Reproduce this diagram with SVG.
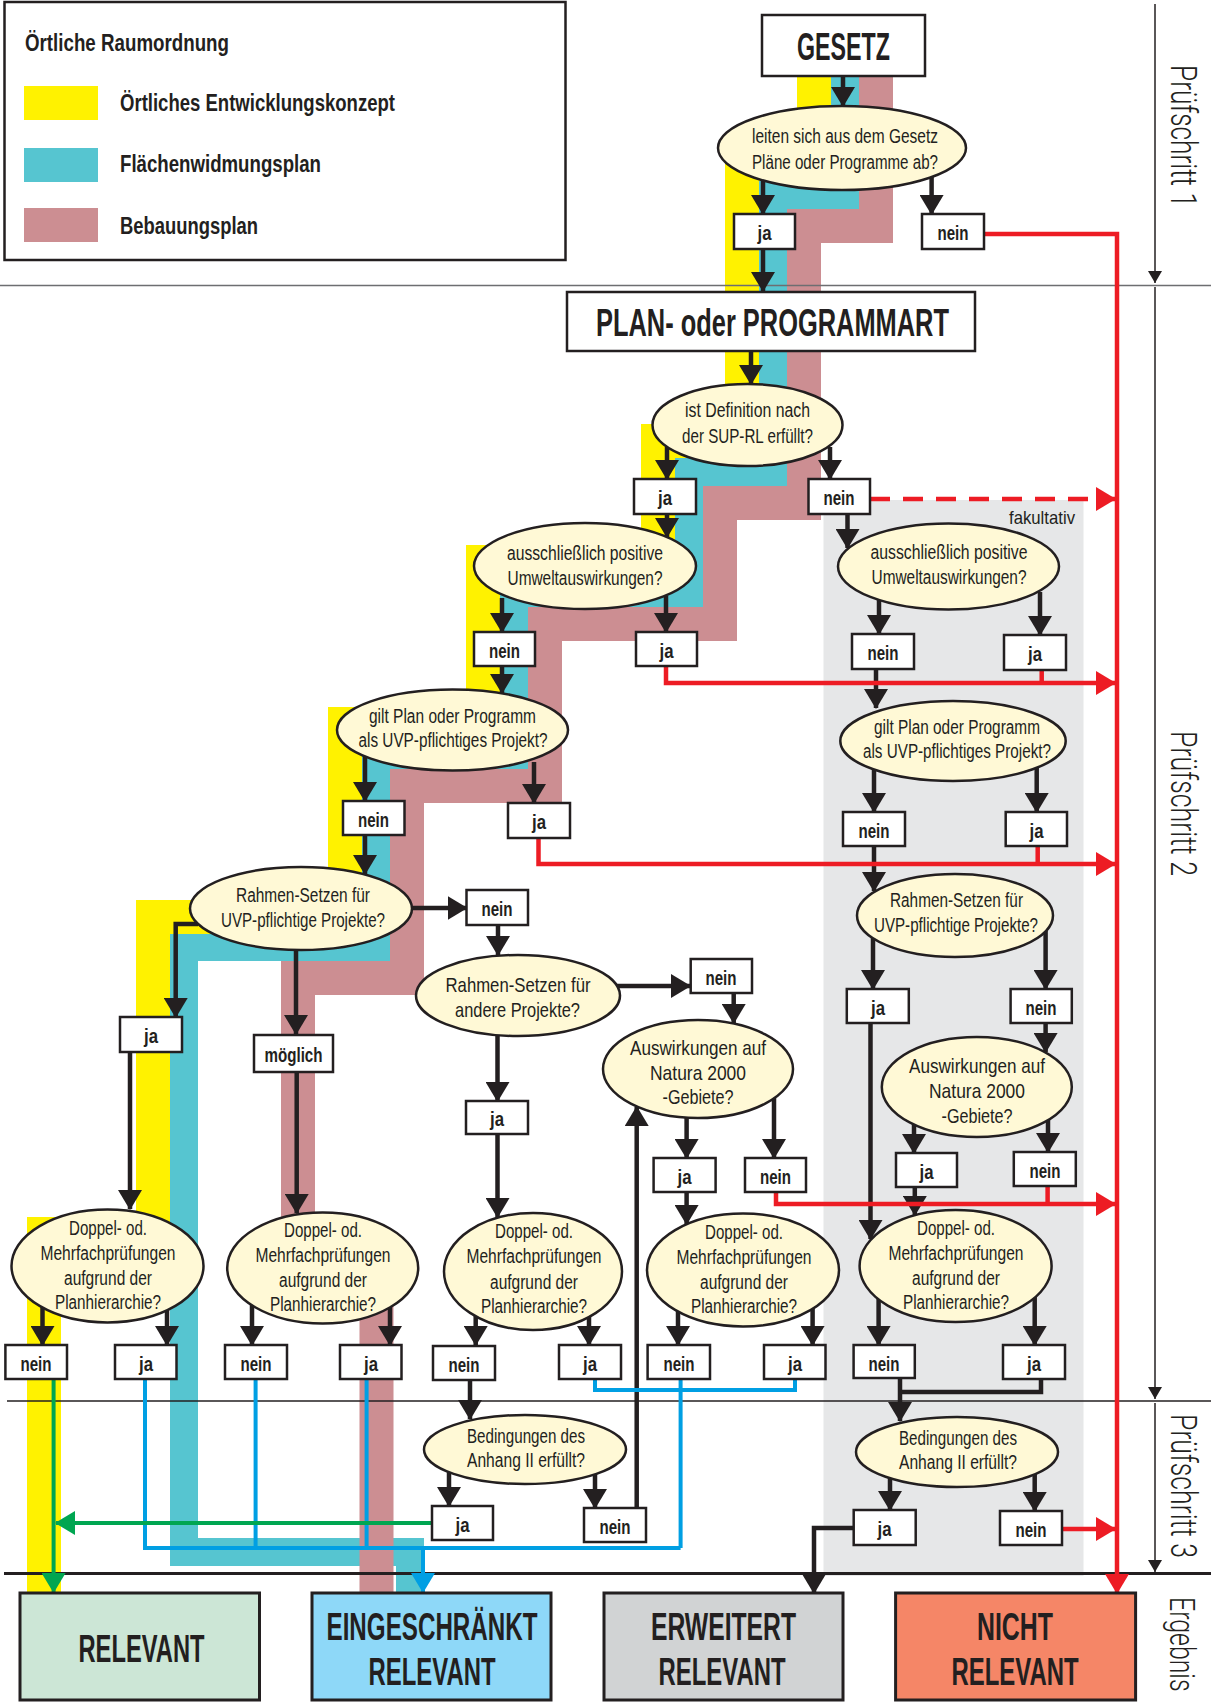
<svg xmlns="http://www.w3.org/2000/svg" width="1211" height="1706" viewBox="0 0 1211 1706">
<style>
text{font-family:"Liberation Sans",Arial,sans-serif;fill:#231f20}
.e{font-size:20px;text-anchor:middle}
.e2{font-size:21px;text-anchor:middle}
.l{font-size:21px;font-weight:bold;text-anchor:middle}
.big{font-size:38px;font-weight:bold;text-anchor:middle}
.res{font-size:38px;font-weight:bold;text-anchor:middle}
.leg{font-size:24px;font-weight:bold}
.ps{font-family:Roboto,"Liberation Sans",Arial,sans-serif;font-weight:300;font-size:37px}
.q ellipse{fill:#fff9d6;stroke:#231f20;stroke-width:2.5}
.bx rect{fill:#fff;stroke:#231f20;stroke-width:2.5}
.band{fill:none;stroke-linejoin:miter;stroke-linecap:butt}
.k{fill:none;stroke:#231f20;stroke-width:4.5}
.r{fill:none;stroke:#ed1c24;stroke-width:4.5}
.bl{fill:none;stroke:#009fe3;stroke-width:4}
.gr{fill:none;stroke:#00a651;stroke-width:4}
.ax{fill:none;stroke:#231f20;stroke-width:1.5}
</style>
<defs>
<marker id="ak" markerUnits="userSpaceOnUse" markerWidth="20" markerHeight="24" viewBox="0 0 20 24" refX="19" refY="12" orient="auto"><path d="M0,0L20,12L0,24z" fill="#231f20"/></marker>
<marker id="ar" markerUnits="userSpaceOnUse" markerWidth="20" markerHeight="24" viewBox="0 0 20 24" refX="19" refY="12" orient="auto"><path d="M0,0L20,12L0,24z" fill="#ed1c24"/></marker>
<marker id="ab" markerUnits="userSpaceOnUse" markerWidth="20" markerHeight="24" viewBox="0 0 20 24" refX="19" refY="12" orient="auto"><path d="M0,0L20,12L0,24z" fill="#009fe3"/></marker>
<marker id="ag" markerUnits="userSpaceOnUse" markerWidth="20" markerHeight="24" viewBox="0 0 20 24" refX="19" refY="12" orient="auto"><path d="M0,0L20,12L0,24z" fill="#00a651"/></marker>
<marker id="aa" markerUnits="userSpaceOnUse" markerWidth="12" markerHeight="14" viewBox="0 0 12 14" refX="12" refY="7" orient="auto"><path d="M0,0L12,7L0,14z" fill="#231f20"/></marker>
</defs>
<rect width="1211" height="1706" fill="#fff"/>

<!-- fakultativ region -->
<g id="fakultativ">
<rect x="823.5" y="500" width="260" height="1076" fill="#e6e7e8"/>
<text x="1042" y="524" style="font-size:19px;text-anchor:middle" textLength="66" lengthAdjust="spacingAndGlyphs">fakultativ</text>
</g>

<!-- colour bands -->
<g id="bands">
<polyline class="band" stroke="#56c5d0" stroke-width="28" points="845,76 845,195 773,195 773,472 689,472 689,593 514,593 514,755 376,755 376,947 184,947 184,1552 410,1552 410,1592"/>
<polyline class="band" stroke="#fff200" stroke-width="34" points="814,76 814,164 742,164 742,441 658,441 658,562 483,562 483,724 345,724 345,917 153,917 153,1234 44,1234 44,1592"/>
<polyline class="band" stroke="#cc8e92" stroke-width="34" points="876,76 876,226 804,226 804,503 720,503 720,624 545,624 545,786 407,786 407,978 298,978 298,1272 376.5,1272 376.5,1592"/>
</g>

<!-- dividers and step axis -->
<g id="steps">
<line x1="0" y1="285.5" x2="1211" y2="285.5" stroke="#6d6e71" stroke-width="1.5"/>
<line x1="7" y1="1401" x2="1211" y2="1401" stroke="#231f20" stroke-width="1.3"/>
<line x1="4" y1="1573.5" x2="1211" y2="1573.5" stroke="#231f20" stroke-width="3"/>
<path class="ax" d="M1155,4V283" marker-end="url(#aa)"/>
<path class="ax" d="M1155,287V1399" marker-end="url(#aa)"/>
<path class="ax" d="M1155,1403V1572" marker-end="url(#aa)"/>
<text class="ps" transform="translate(1171,65) rotate(90)" textLength="142" lengthAdjust="spacingAndGlyphs">Prüfschritt 1</text>
<text class="ps" transform="translate(1171,731) rotate(90)" textLength="145" lengthAdjust="spacingAndGlyphs">Prüfschritt 2</text>
<text class="ps" transform="translate(1171,1414) rotate(90)" textLength="144" lengthAdjust="spacingAndGlyphs">Prüfschritt 3</text>
<text class="ps" transform="translate(1170,1597) rotate(90) scale(0.71,1)" style="font-size:35px">Ergebnis</text>
</g>

<!-- legend -->
<g id="legend">
<rect x="4.5" y="2" width="561" height="258" fill="#fff" stroke="#231f20" stroke-width="2.5"/>
<text class="leg" x="25" y="51" textLength="204" lengthAdjust="spacingAndGlyphs">Örtliche Raumordnung</text>
<rect x="24" y="86" width="74" height="34" fill="#fff200"/>
<rect x="24" y="148" width="74" height="34" fill="#56c5d0"/>
<rect x="24" y="208" width="74" height="34" fill="#cc8e92"/>
<text class="leg" x="120" y="111" textLength="275" lengthAdjust="spacingAndGlyphs">Örtliches Entwicklungskonzept</text>
<text class="leg" x="120" y="172" textLength="201" lengthAdjust="spacingAndGlyphs">Flächenwidmungsplan</text>
<text class="leg" x="120" y="234" textLength="138" lengthAdjust="spacingAndGlyphs">Bebauungsplan</text>
</g>

<!-- connectors -->
<g id="connectors">
<path class="k" marker-end="url(#ak)" d="M843,76V106"/>
<path class="k" marker-end="url(#ak)" d="M763,178V214"/>
<path class="k" marker-end="url(#ak)" d="M763,249V291"/>
<path class="k" marker-end="url(#ak)" d="M931.6,177V214"/>
<path class="k" marker-end="url(#ak)" d="M751,351V384"/>
<path class="k" marker-end="url(#ak)" d="M667,447V479"/>
<path class="k" marker-end="url(#ak)" d="M830,447V479"/>
<path class="k" marker-end="url(#ak)" d="M667,514V537"/>
<path class="k" marker-end="url(#ak)" d="M847.5,514V548"/>
<path class="k" marker-end="url(#ak)" d="M502,598V632"/>
<path class="k" marker-end="url(#ak)" d="M666,596V632"/>
<path class="k" marker-end="url(#ak)" d="M879,600V634"/>
<path class="k" marker-end="url(#ak)" d="M1040,592V635"/>
<path class="k" marker-end="url(#ak)" d="M502,666V693"/>
<path class="k" marker-end="url(#ak)" d="M876,669V708"/>
<path class="k" marker-end="url(#ak)" d="M365,757V801"/>
<path class="k" marker-end="url(#ak)" d="M534,762V803"/>
<path class="k" marker-end="url(#ak)" d="M365,835V874"/>
<path class="k" marker-end="url(#ak)" d="M874,768V812"/>
<path class="k" marker-end="url(#ak)" d="M1036.7,765V812"/>
<path class="k" marker-end="url(#ak)" d="M874,846V891"/>
<path class="k" marker-end="url(#ak)" d="M198,924H175.7V1017"/>
<path class="k" marker-end="url(#ak)" d="M296,950V1034"/>
<path class="k" marker-end="url(#ak)" d="M412,908H466.5"/>
<path class="k" marker-end="url(#ak)" d="M498,925V955"/>
<path class="k" marker-end="url(#ak)" d="M617,986H690"/>
<path class="k" marker-end="url(#ak)" d="M497.5,1036V1101"/>
<path class="k" marker-end="url(#ak)" d="M733.7,993V1023"/>
<path class="k" marker-end="url(#ak)" d="M686.6,1114V1158"/>
<path class="k" marker-end="url(#ak)" d="M774,1098V1158"/>
<path class="k" marker-end="url(#ak)" d="M686.6,1192V1224"/>
<path class="k" marker-end="url(#ak)" d="M130,1052V1209"/>
<path class="k" marker-end="url(#ak)" d="M296.7,1072V1213"/>
<path class="k" marker-end="url(#ak)" d="M497.5,1134V1217"/>
<path class="k" marker-end="url(#ak)" d="M42.5,1305V1345"/>
<path class="k" marker-end="url(#ak)" d="M167,1306V1345"/>
<path class="k" marker-end="url(#ak)" d="M252,1304V1345"/>
<path class="k" marker-end="url(#ak)" d="M390,1305V1345"/>
<path class="k" marker-end="url(#ak)" d="M475.7,1314V1345"/>
<path class="k" marker-end="url(#ak)" d="M589,1314V1345"/>
<path class="k" marker-end="url(#ak)" d="M678,1310V1345"/>
<path class="k" marker-end="url(#ak)" d="M812.6,1308V1345"/>
<path class="k" marker-end="url(#ak)" d="M878.6,1298V1345"/>
<path class="k" marker-end="url(#ak)" d="M1034.7,1297V1345"/>
<path class="k" marker-end="url(#ak)" d="M470,1380V1419"/>
<path class="k" marker-end="url(#ak)" d="M449,1471V1506"/>
<path class="k" marker-end="url(#ak)" d="M595,1473V1508"/>
<path class="k" marker-end="url(#ak)" d="M636.7,1508V1107"/>
<path class="k" marker-end="url(#ak)" d="M873,938V989"/>
<path class="k" marker-end="url(#ak)" d="M1045.6,931V989"/>
<path class="k" marker-end="url(#ak)" d="M870.5,1023V1239"/>
<path class="k" marker-end="url(#ak)" d="M1045.6,1023V1052"/>
<path class="k" marker-end="url(#ak)" d="M914,1124V1153"/>
<path class="k" marker-end="url(#ak)" d="M1048,1119V1152"/>
<path class="k" marker-end="url(#ak)" d="M914.8,1187V1215"/>
<path class="k" marker-end="url(#ak)" d="M900,1378V1421"/>
<path class="k" d="M1041,1379V1392H900"/>
<path class="k" marker-end="url(#ak)" d="M890,1477V1510"/>
<path class="k" marker-end="url(#ak)" d="M1034.7,1473V1511"/>
<path class="k" marker-end="url(#ak)" d="M853.7,1528H814V1593"/>

<path class="r" marker-end="url(#ar)" d="M984,234H1117V1593"/>
<path class="r" marker-end="url(#ar)" d="M870,499H1115" stroke-dasharray="20,13"/>
<path class="r" marker-end="url(#ar)" d="M666,666V683H1115"/>
<path class="r" d="M1041.7,670V683"/>
<path class="r" marker-end="url(#ar)" d="M538.5,838V864H1115"/>
<path class="r" d="M1037.7,846V864"/>
<path class="r" marker-end="url(#ar)" d="M776,1192V1204H1115"/>
<path class="r" d="M1047.6,1186V1204"/>
<path class="r" marker-end="url(#ar)" d="M1062,1529H1115"/>

<path class="bl" d="M145,1379V1548H680.6"/>
<path class="bl" d="M255.6,1379V1548"/>
<path class="bl" d="M366.6,1379V1548"/>
<path class="bl" d="M680.6,1379V1548"/>
<path class="bl" d="M595,1379V1390H795V1379"/>
<path class="bl" marker-end="url(#ab)" d="M423,1548V1592"/>

<path class="gr" marker-end="url(#ag)" d="M53.6,1379V1592"/>
<path class="gr" marker-end="url(#ag)" d="M432,1523H56"/>
</g>

<!-- main boxes -->
<g id="gesetz" class="bx"><rect x="762" y="15" width="163" height="61"/><text class="big" x="843.5" y="60" textLength="93" lengthAdjust="spacingAndGlyphs">GESETZ</text></g>
<g id="planart" class="bx"><rect x="567" y="292" width="408" height="59"/><text class="big" x="772.5" y="336" textLength="353" lengthAdjust="spacingAndGlyphs">PLAN- oder PROGRAMMART</text></g>

<!-- questions -->
<g id="q1" class="q"><ellipse cx="842" cy="148" rx="124" ry="42"/>
<text class="e" x="845" y="143" textLength="186" lengthAdjust="spacingAndGlyphs">leiten sich aus dem Gesetz</text>
<text class="e" x="845" y="169" textLength="186" lengthAdjust="spacingAndGlyphs">Pläne oder Programme ab?</text></g>
<g id="q2" class="q"><ellipse cx="747.5" cy="425" rx="95" ry="41"/>
<text class="e" x="747.5" y="417" textLength="125" lengthAdjust="spacingAndGlyphs">ist Definition nach</text>
<text class="e" x="747.5" y="443" textLength="131" lengthAdjust="spacingAndGlyphs">der SUP-RL erfüllt?</text></g>
<g id="q3l" class="q"><ellipse cx="585" cy="566" rx="111" ry="43"/>
<text class="e" x="585" y="560" textLength="156" lengthAdjust="spacingAndGlyphs">ausschließlich positive</text>
<text class="e" x="585" y="585" textLength="155" lengthAdjust="spacingAndGlyphs">Umweltauswirkungen?</text></g>
<g id="q3r" class="q"><ellipse cx="948.5" cy="566.5" rx="110.5" ry="43"/>
<text class="e" x="949" y="559" textLength="157" lengthAdjust="spacingAndGlyphs">ausschließlich positive</text>
<text class="e" x="949" y="584" textLength="155" lengthAdjust="spacingAndGlyphs">Umweltauswirkungen?</text></g>
<g id="q4l" class="q"><ellipse cx="452.5" cy="730" rx="115.5" ry="40.5"/>
<text class="e" x="452.5" y="723" textLength="167" lengthAdjust="spacingAndGlyphs">gilt Plan oder Programm</text>
<text class="e" x="453" y="747" textLength="189" lengthAdjust="spacingAndGlyphs">als UVP-pflichtiges Projekt?</text></g>
<g id="q4r" class="q"><ellipse cx="953" cy="741" rx="112.7" ry="40"/>
<text class="e" x="957" y="734" textLength="166" lengthAdjust="spacingAndGlyphs">gilt Plan oder Programm</text>
<text class="e" x="957" y="758" textLength="188" lengthAdjust="spacingAndGlyphs">als UVP-pflichtiges Projekt?</text></g>
<g id="q5l" class="q"><ellipse cx="301" cy="908.5" rx="111" ry="41.5"/>
<text class="e" x="303" y="902" textLength="134" lengthAdjust="spacingAndGlyphs">Rahmen-Setzen für</text>
<text class="e" x="303" y="927" textLength="164" lengthAdjust="spacingAndGlyphs">UVP-pflichtige Projekte?</text></g>
<g id="q5r" class="q"><ellipse cx="955" cy="915.5" rx="98" ry="41.5"/>
<text class="e" x="956.5" y="907" textLength="133" lengthAdjust="spacingAndGlyphs">Rahmen-Setzen für</text>
<text class="e" x="956" y="932" textLength="164" lengthAdjust="spacingAndGlyphs">UVP-pflichtige Projekte?</text></g>
<g id="q6" class="q"><ellipse cx="518" cy="995.5" rx="102" ry="40.5"/>
<text class="e2" x="518" y="992" textLength="145" lengthAdjust="spacingAndGlyphs">Rahmen-Setzen für</text>
<text class="e2" x="517.5" y="1017" textLength="125" lengthAdjust="spacingAndGlyphs">andere Projekte?</text></g>
<g id="q7l" class="q"><ellipse cx="698" cy="1069" rx="95" ry="49"/>
<text class="e2" x="698" y="1055" textLength="136" lengthAdjust="spacingAndGlyphs">Auswirkungen auf</text>
<text class="e2" x="698" y="1080" textLength="96" lengthAdjust="spacingAndGlyphs">Natura 2000</text>
<text class="e2" x="698" y="1104" textLength="71" lengthAdjust="spacingAndGlyphs">-Gebiete?</text></g>
<g id="q7r" class="q"><ellipse cx="976.8" cy="1087" rx="95" ry="50"/>
<text class="e2" x="977" y="1073" textLength="136" lengthAdjust="spacingAndGlyphs">Auswirkungen auf</text>
<text class="e2" x="977" y="1098" textLength="96" lengthAdjust="spacingAndGlyphs">Natura 2000</text>
<text class="e2" x="977" y="1123" textLength="71" lengthAdjust="spacingAndGlyphs">-Gebiete?</text></g>

<g id="d1" class="q"><ellipse cx="107.5" cy="1266" rx="96" ry="56.5"/>
<text class="e" x="108" y="1234.5" textLength="78" lengthAdjust="spacingAndGlyphs">Doppel- od.</text>
<text class="e" x="108" y="1259.5" textLength="135" lengthAdjust="spacingAndGlyphs">Mehrfachprüfungen</text>
<text class="e" x="108" y="1284.5" textLength="88" lengthAdjust="spacingAndGlyphs">aufgrund der</text>
<text class="e" x="108" y="1309" textLength="106" lengthAdjust="spacingAndGlyphs">Planhierarchie?</text></g>
<g id="d2" class="q"><ellipse cx="322.7" cy="1268" rx="95.5" ry="55.5"/>
<text class="e" x="323" y="1236.5" textLength="78" lengthAdjust="spacingAndGlyphs">Doppel- od.</text>
<text class="e" x="323" y="1261.5" textLength="135" lengthAdjust="spacingAndGlyphs">Mehrfachprüfungen</text>
<text class="e" x="323" y="1286.5" textLength="88" lengthAdjust="spacingAndGlyphs">aufgrund der</text>
<text class="e" x="323" y="1311" textLength="106" lengthAdjust="spacingAndGlyphs">Planhierarchie?</text></g>
<g id="d3" class="q"><ellipse cx="533" cy="1271.5" rx="89" ry="58.5"/>
<text class="e" x="534" y="1238" textLength="78" lengthAdjust="spacingAndGlyphs">Doppel- od.</text>
<text class="e" x="534" y="1263" textLength="135" lengthAdjust="spacingAndGlyphs">Mehrfachprüfungen</text>
<text class="e" x="534" y="1288.5" textLength="88" lengthAdjust="spacingAndGlyphs">aufgrund der</text>
<text class="e" x="534" y="1313" textLength="106" lengthAdjust="spacingAndGlyphs">Planhierarchie?</text></g>
<g id="d4" class="q"><ellipse cx="743" cy="1270" rx="96" ry="56.5"/>
<text class="e" x="744" y="1238.5" textLength="78" lengthAdjust="spacingAndGlyphs">Doppel- od.</text>
<text class="e" x="744" y="1263.5" textLength="135" lengthAdjust="spacingAndGlyphs">Mehrfachprüfungen</text>
<text class="e" x="744" y="1288.5" textLength="88" lengthAdjust="spacingAndGlyphs">aufgrund der</text>
<text class="e" x="744" y="1313" textLength="106" lengthAdjust="spacingAndGlyphs">Planhierarchie?</text></g>
<g id="d5" class="q"><ellipse cx="955.6" cy="1266" rx="96" ry="56"/>
<text class="e" x="956" y="1234.5" textLength="78" lengthAdjust="spacingAndGlyphs">Doppel- od.</text>
<text class="e" x="956" y="1259.5" textLength="135" lengthAdjust="spacingAndGlyphs">Mehrfachprüfungen</text>
<text class="e" x="956" y="1284.5" textLength="88" lengthAdjust="spacingAndGlyphs">aufgrund der</text>
<text class="e" x="956" y="1309" textLength="106" lengthAdjust="spacingAndGlyphs">Planhierarchie?</text></g>
<g id="bedl" class="q"><ellipse cx="525" cy="1449.5" rx="101" ry="34.5"/>
<text class="e" x="526" y="1443" textLength="118" lengthAdjust="spacingAndGlyphs">Bedingungen des</text>
<text class="e" x="526" y="1467" textLength="118" lengthAdjust="spacingAndGlyphs">Anhang II erfüllt?</text></g>
<g id="bedr" class="q"><ellipse cx="957" cy="1452" rx="101" ry="35"/>
<text class="e" x="958" y="1445" textLength="118" lengthAdjust="spacingAndGlyphs">Bedingungen des</text>
<text class="e" x="958" y="1469" textLength="118" lengthAdjust="spacingAndGlyphs">Anhang II erfüllt?</text></g>

<!-- answer boxes -->
<g id="a1" class="bx"><rect x="734" y="214" width="61" height="35"/><text class="l" x="764.5" y="240" textLength="14" lengthAdjust="spacingAndGlyphs">ja</text></g>
<g id="a2" class="bx"><rect x="922" y="214" width="62" height="35"/><text class="l" x="953" y="240" textLength="31" lengthAdjust="spacingAndGlyphs">nein</text></g>
<g id="a3" class="bx"><rect x="634" y="479" width="62" height="35"/><text class="l" x="665" y="505" textLength="14" lengthAdjust="spacingAndGlyphs">ja</text></g>
<g id="a4" class="bx"><rect x="808.5" y="479" width="61.5" height="35"/><text class="l" x="839" y="505" textLength="31" lengthAdjust="spacingAndGlyphs">nein</text></g>
<g id="a5" class="bx"><rect x="474" y="632" width="61" height="34"/><text class="l" x="504.5" y="658" textLength="31" lengthAdjust="spacingAndGlyphs">nein</text></g>
<g id="a6" class="bx"><rect x="636" y="632" width="61" height="34"/><text class="l" x="666.5" y="658" textLength="14" lengthAdjust="spacingAndGlyphs">ja</text></g>
<g id="a7" class="bx"><rect x="852" y="634" width="62" height="35"/><text class="l" x="883" y="660" textLength="31" lengthAdjust="spacingAndGlyphs">nein</text></g>
<g id="a8" class="bx"><rect x="1004" y="635" width="62" height="35"/><text class="l" x="1035" y="661" textLength="14" lengthAdjust="spacingAndGlyphs">ja</text></g>
<g id="a9" class="bx"><rect x="343" y="801" width="61.5" height="34"/><text class="l" x="373.5" y="827" textLength="31" lengthAdjust="spacingAndGlyphs">nein</text></g>
<g id="a10" class="bx"><rect x="508" y="803" width="62" height="35"/><text class="l" x="539" y="829" textLength="14" lengthAdjust="spacingAndGlyphs">ja</text></g>
<g id="a11" class="bx"><rect x="843" y="812" width="62" height="34"/><text class="l" x="874" y="838" textLength="31" lengthAdjust="spacingAndGlyphs">nein</text></g>
<g id="a12" class="bx"><rect x="1005.7" y="812" width="61.3" height="34"/><text class="l" x="1036.5" y="838" textLength="14" lengthAdjust="spacingAndGlyphs">ja</text></g>
<g id="a13" class="bx"><rect x="466.5" y="890" width="61.5" height="35"/><text class="l" x="497" y="916" textLength="31" lengthAdjust="spacingAndGlyphs">nein</text></g>
<g id="a14" class="bx"><rect x="120" y="1017" width="62" height="35"/><text class="l" x="151" y="1043" textLength="14" lengthAdjust="spacingAndGlyphs">ja</text></g>
<g id="a15" class="bx"><rect x="254" y="1035" width="79" height="37"/><text class="l" x="293.5" y="1062" textLength="58" lengthAdjust="spacingAndGlyphs">möglich</text></g>
<g id="a16" class="bx"><rect x="466" y="1101" width="62" height="33"/><text class="l" x="497" y="1126" textLength="14" lengthAdjust="spacingAndGlyphs">ja</text></g>
<g id="a17" class="bx"><rect x="690.7" y="959" width="61.3" height="34"/><text class="l" x="721" y="985" textLength="31" lengthAdjust="spacingAndGlyphs">nein</text></g>
<g id="a18" class="bx"><rect x="653.6" y="1158" width="62" height="34"/><text class="l" x="684.5" y="1184" textLength="14" lengthAdjust="spacingAndGlyphs">ja</text></g>
<g id="a19" class="bx"><rect x="745" y="1158" width="61" height="34"/><text class="l" x="775.5" y="1184" textLength="31" lengthAdjust="spacingAndGlyphs">nein</text></g>
<g id="a20" class="bx"><rect x="846.8" y="989" width="62" height="34"/><text class="l" x="878" y="1015" textLength="14" lengthAdjust="spacingAndGlyphs">ja</text></g>
<g id="a21" class="bx"><rect x="1010.6" y="989" width="61.2" height="34"/><text class="l" x="1041" y="1015" textLength="31" lengthAdjust="spacingAndGlyphs">nein</text></g>
<g id="a22" class="bx"><rect x="896" y="1153" width="61" height="34"/><text class="l" x="926.5" y="1179" textLength="14" lengthAdjust="spacingAndGlyphs">ja</text></g>
<g id="a23" class="bx"><rect x="1013.8" y="1152" width="62" height="34"/><text class="l" x="1045" y="1178" textLength="31" lengthAdjust="spacingAndGlyphs">nein</text></g>

<g id="a24" class="bx"><rect x="5.4" y="1345" width="61.6" height="34"/><text class="l" x="36" y="1371" textLength="31" lengthAdjust="spacingAndGlyphs">nein</text></g>
<g id="a25" class="bx"><rect x="115" y="1345" width="61.5" height="34"/><text class="l" x="146" y="1371" textLength="14" lengthAdjust="spacingAndGlyphs">ja</text></g>
<g id="a26" class="bx"><rect x="225" y="1345" width="62" height="34"/><text class="l" x="256" y="1371" textLength="31" lengthAdjust="spacingAndGlyphs">nein</text></g>
<g id="a27" class="bx"><rect x="340" y="1345" width="61.5" height="34"/><text class="l" x="371" y="1371" textLength="14" lengthAdjust="spacingAndGlyphs">ja</text></g>
<g id="a28" class="bx"><rect x="433" y="1346" width="62" height="34"/><text class="l" x="464" y="1372" textLength="31" lengthAdjust="spacingAndGlyphs">nein</text></g>
<g id="a29" class="bx"><rect x="559" y="1345" width="62" height="34"/><text class="l" x="590" y="1371" textLength="14" lengthAdjust="spacingAndGlyphs">ja</text></g>
<g id="a30" class="bx"><rect x="647.6" y="1345" width="62.4" height="34"/><text class="l" x="679" y="1371" textLength="31" lengthAdjust="spacingAndGlyphs">nein</text></g>
<g id="a31" class="bx"><rect x="764" y="1345" width="61.5" height="34"/><text class="l" x="795" y="1371" textLength="14" lengthAdjust="spacingAndGlyphs">ja</text></g>
<g id="a32" class="bx"><rect x="853.6" y="1345" width="61.2" height="33"/><text class="l" x="884" y="1371" textLength="31" lengthAdjust="spacingAndGlyphs">nein</text></g>
<g id="a33" class="bx"><rect x="1003" y="1345" width="62" height="34"/><text class="l" x="1034" y="1371" textLength="14" lengthAdjust="spacingAndGlyphs">ja</text></g>

<g id="a34" class="bx"><rect x="432" y="1506" width="61" height="34"/><text class="l" x="462.5" y="1532" textLength="14" lengthAdjust="spacingAndGlyphs">ja</text></g>
<g id="a35" class="bx"><rect x="584" y="1508" width="62" height="34"/><text class="l" x="615" y="1534" textLength="31" lengthAdjust="spacingAndGlyphs">nein</text></g>
<g id="a36" class="bx"><rect x="853.7" y="1510" width="62" height="35"/><text class="l" x="884.5" y="1536" textLength="14" lengthAdjust="spacingAndGlyphs">ja</text></g>
<g id="a37" class="bx"><rect x="1000" y="1511" width="62" height="34"/><text class="l" x="1031" y="1537" textLength="31" lengthAdjust="spacingAndGlyphs">nein</text></g>

<!-- results -->
<g id="relevant"><rect x="20" y="1593" width="239.5" height="107" fill="#cce6d6" stroke="#231f20" stroke-width="3"/>
<text class="res" x="141.5" y="1662" textLength="126" lengthAdjust="spacingAndGlyphs">RELEVANT</text></g>
<g id="eingeschraenkt"><rect x="312" y="1593" width="239" height="107" fill="#8ed8f8" stroke="#231f20" stroke-width="3"/>
<text class="res" x="432" y="1640" textLength="211" lengthAdjust="spacingAndGlyphs">EINGESCHRÄNKT</text>
<text class="res" x="432" y="1685" textLength="127" lengthAdjust="spacingAndGlyphs">RELEVANT</text></g>
<g id="erweitert"><rect x="604" y="1593" width="239" height="107" fill="#d1d3d4" stroke="#231f20" stroke-width="3"/>
<text class="res" x="723.5" y="1640" textLength="145" lengthAdjust="spacingAndGlyphs">ERWEITERT</text>
<text class="res" x="722" y="1685" textLength="127" lengthAdjust="spacingAndGlyphs">RELEVANT</text></g>
<g id="nicht"><rect x="895.6" y="1593" width="240" height="107" fill="#f58667" stroke="#231f20" stroke-width="3"/>
<text class="res" x="1015" y="1640" textLength="76" lengthAdjust="spacingAndGlyphs">NICHT</text>
<text class="res" x="1015" y="1685" textLength="127" lengthAdjust="spacingAndGlyphs">RELEVANT</text></g>
</svg>
